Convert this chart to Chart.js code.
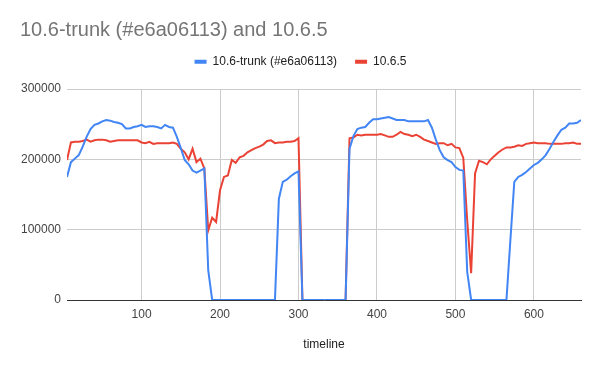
<!DOCTYPE html>
<html>
<head>
<meta charset="utf-8">
<script src="https://cdn.jsdelivr.net/npm/chart.js@4/dist/chart.umd.min.js"></script>
<style>
  html, body { margin: 0; padding: 0; background: #ffffff; }
  #wrap { width: 600px; height: 371px; }
</style>
</head>
<body>
<div id="wrap"><canvas id="c" width="600" height="371"></canvas></div>
<script>
const chartTitle = "10.6-trunk (#e6a06113) and 10.6.5";
const xAxisTitle = "timeline";
const seriesNames = ["10.6-trunk (#e6a06113)", "10.6.5"];
const xTickValues = [100, 200, 300, 400, 500, 600];
const yTickValues = [0, 100000, 200000, 300000];

const timeline = [
  5,10,15,20,25,30,35,40,45,50,55,60,65,70,75,80,85,90,95,100,
  105,110,115,120,125,130,135,140,145,150,155,160,165,170,175,180,185,190,195,200,
  205,210,215,220,225,230,235,240,245,250,255,260,265,270,275,280,285,290,295,300,
  305,310,315,320,325,330,335,340,345,350,355,360,365,370,375,380,385,390,395,400,
  405,410,415,420,425,430,435,440,445,450,455,460,465,470,475,480,485,490,495,500,
  505,510,515,520,525,530,535,540,545,550,555,560,565,570,575,580,585,590,595,600,
  605,610,615,620,625,630,635,640,645,650,655,660
];

const trunkValues = [
  175000,196000,201000,206000,218000,232000,243000,249000,251000,254000,
  256000,255000,253000,252000,250000,244000,244000,246000,247000,249000,
  246000,247000,247000,246000,244000,249000,246000,245000,232000,216000,
  199000,193000,184000,181000,184000,187000,42000,0,0,0,
  0,0,0,0,0,0,0,0,0,0,
  0,0,0,0,144000,168000,171000,176000,180000,183000,
  0,0,0,0,0,0,0,0,0,0,
  0,0,215000,233000,243000,245000,246000,252000,257000,257000,
  258000,259000,260000,258000,256000,256000,256000,254000,254000,254000,
  254000,254000,256000,245000,228000,213000,203000,199000,196000,189000,
  185000,184000,40000,0,0,0,0,0,0,0,
  0,0,0,85000,168000,175000,178000,182000,187000,192000,
  195000,200000,206000,215000,225000,234000,242000,245000,251000,251000,
  252000,256000
];

const releaseValues = [
  199000,224000,225000,225000,226000,228000,225000,227000,228000,228000,
  227000,225000,226000,227000,227000,227000,227000,227000,227000,224000,
  223000,225000,222000,223000,223000,223000,223000,224000,222000,215000,
  210000,200000,215000,196000,201000,187000,99000,117000,111000,156000,
  175000,177000,199000,195000,203000,205000,210000,213000,216000,218000,
  221000,226000,227000,223000,224000,224000,225000,225000,226000,230000,
  0,0,0,0,0,0,0,0,0,0,
  0,0,230000,231000,235000,234000,235000,235000,235000,235000,
  236000,234000,232000,232000,235000,239000,236000,235000,233000,235000,
  232000,228000,226000,224000,222000,223000,223000,220000,222000,217000,
  216000,202000,113000,38000,180000,198000,196000,193000,200000,205000,
  210000,214000,217000,217000,218000,220000,219000,222000,223000,224000,
  223000,223000,223000,222000,222000,222000,222000,223000,223000,224000,
  222000,222000
];

const toPoints = (vals) => timeline.map((x, i) => ({ x: x, y: vals[i] }));
const FONT = "'Liberation Sans', Arial, sans-serif";

new Chart(document.getElementById('c'), {
  type: 'line',
  data: {
    datasets: [
      {
        label: seriesNames[0],
        data: toPoints(trunkValues),
        borderColor: '#4285F4',
        backgroundColor: '#4285F4',
        borderWidth: 2,
        pointRadius: 0,
        tension: 0
      },
      {
        label: seriesNames[1],
        data: toPoints(releaseValues),
        borderColor: '#EA4335',
        backgroundColor: '#EA4335',
        borderWidth: 2,
        pointRadius: 0,
        tension: 0
      }
    ]
  },
  options: {
    responsive: false,
    animation: false,
    layout: { padding: { left: 20, right: 19, top: 0, bottom: 0 } },
    plugins: {
      title: {
        display: true,
        text: chartTitle,
        align: 'start',
        color: '#757575',
        font: { family: FONT, size: 20, weight: 'normal', lineHeight: 0.7 },
        padding: { top: 23.7, bottom: 0 }
      },
      legend: {
        display: true,
        position: 'top',
        align: 'center',
        labels: {
          color: '#222222',
          font: { family: FONT, size: 12 },
          boxWidth: 12,
          boxHeight: 4,
          padding: 18,
          generateLabels: (chart) =>
            Chart.defaults.plugins.legend.labels.generateLabels(chart).map(l => Object.assign(l, { lineWidth: 0 }))
        }
      },
      tooltip: { enabled: false }
    },
    scales: {
      x: {
        type: 'linear',
        min: 5,
        max: 660,
        afterBuildTicks: (scale) => { scale.ticks = xTickValues.map(v => ({ value: v })); },
        afterFit: (scale) => { scale.height = 71; },
        grid: { color: '#cccccc', drawTicks: false },
        border: { display: true, color: '#333333', width: 1 },
        ticks: { color: '#444444', font: { family: FONT, size: 12 }, padding: 7, maxRotation: 0 },
        title: {
          display: true,
          text: xAxisTitle,
          color: '#222222',
          font: { family: FONT, size: 12 },
          padding: { top: 4, bottom: 19 }
        }
      },
      xSpacer: {
        type: 'linear',
        position: 'top',
        display: true,
        grid: { display: false },
        border: { display: false },
        ticks: { display: false },
        afterFit: (scale) => { scale.height = 11.3; }
      },
      y: {
        type: 'linear',
        min: 0,
        max: 300000,
        afterBuildTicks: (scale) => { scale.ticks = yTickValues.map(v => ({ value: v })); },
        afterFit: (scale) => { scale.width = 47; },
        grid: { color: '#cccccc', drawTicks: false },
        border: { display: false },
        ticks: {
          color: '#444444',
          font: { family: FONT, size: 12 },
          padding: 6,
          callback: (v) => String(v)
        }
      }
    }
  }
});
</script>
</body>
</html>
